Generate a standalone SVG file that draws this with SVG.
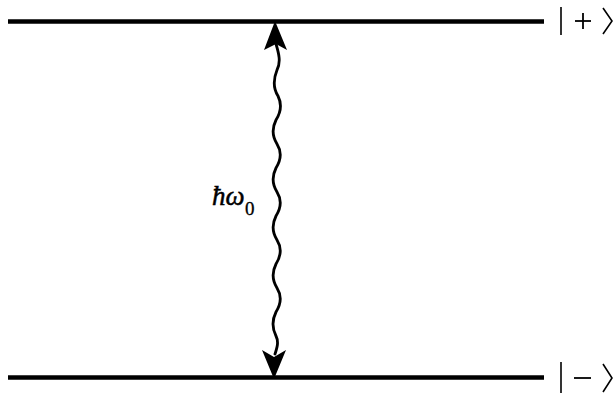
<svg xmlns="http://www.w3.org/2000/svg" width="615" height="396" viewBox="0 0 615 396">
<style>
.level{stroke:#000;stroke-width:4.5;fill:none}
.wave{stroke:#000;stroke-width:2.8;fill:none;stroke-linecap:round}
.head{fill:#000}
.lbl{font-family:"Liberation Serif","DejaVu Serif",serif;font-style:italic;font-size:27px;fill:#000;stroke:#000;stroke-width:0.5}
.sub{font-family:"Liberation Serif","DejaVu Serif",serif;font-size:19px;fill:#000;stroke:#000;stroke-width:0.3}
</style>
<rect width="615" height="396" fill="#fff"/>
<g id="level-plus"><line class="level" x1="8" y1="21.5" x2="544" y2="21.5"/>
<line x1="561" y1="7" x2="561" y2="35" stroke="#000" stroke-width="1.6"/>
<line x1="575" y1="21" x2="591" y2="21" stroke="#000" stroke-width="1.8"/>
<line x1="583" y1="13" x2="583" y2="29" stroke="#000" stroke-width="1.8"/>
<polyline points="603,8 612,21 603,34" fill="none" stroke="#000" stroke-width="1.6"/>
</g>
<g id="level-minus"><line class="level" x1="8" y1="377.5" x2="544" y2="377.5"/>
<line x1="561" y1="362" x2="561" y2="393" stroke="#000" stroke-width="1.6"/>
<line x1="574" y1="378" x2="591" y2="378" stroke="#000" stroke-width="1.8"/>
<polyline points="603,364 612,378 603,392" fill="none" stroke="#000" stroke-width="1.6"/>
</g>
<g id="connectors">
<path class="wave" d="M276,44 C279,54 281,62 277,70 C273,80 273,88 278,96 C282,104 281,112 276,120 C272,128 272,136 277,144 C282,152 281,160 276,168 C272,176 272,184 277,192 C282,200 281,208 276,216 C272,224 272,232 277,240 C282,248 281,256 276,264 C272,272 272,280 277,288 C282,296 281,304 276,312 C272,320 272,328 276,336 C279,342 277,348 275,354"/>
<path class="head" d="M275,21 L287,50 L276,44 L264,50 Z"/>
<path class="head" d="M274,379 L262,350 L274,357 L286,350 Z"/>
</g>
<g id="label">
<text class="lbl" x="212" y="205">ħω</text>
<text class="sub" x="245" y="215">0</text>
</g>
</svg>
